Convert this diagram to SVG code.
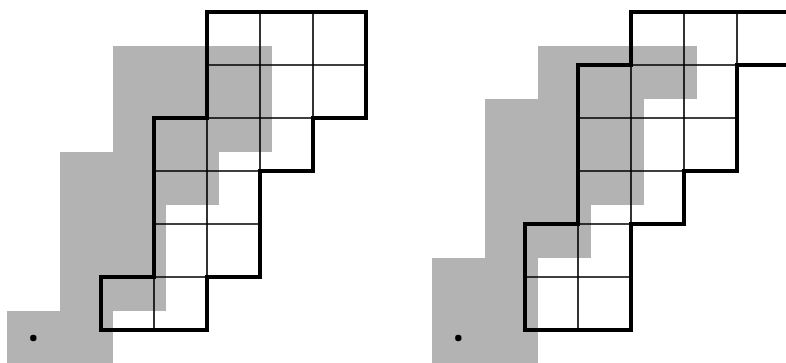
<svg xmlns="http://www.w3.org/2000/svg" width="786" height="363" viewBox="0 0 786 363">
<style>
.shade{fill:#b3b3b3;stroke:none}
.thin{stroke:#000;stroke-width:1.6;fill:none}
.thick{stroke:#000;stroke-width:4;fill:none;stroke-linejoin:miter;stroke-linecap:square}
.dot{fill:#000}
</style>
<rect width="786" height="363" fill="#fff"/>
<g id="left-figure">
  <polygon class="shade" points="113,46 272,46 272,152 219,152 219,205 166,205 166,311 113,311 113,363 7,363 7,311 60,311 60,152 113,152"/>
  <circle class="dot" cx="33.3" cy="338" r="3.2"/>
  <path class="thin" d="M260,12V171 M313,12V118 M207,118V277 M154,277V330 M207,65H366 M207,118H313 M154,171H260 M154,224H260 M154,277H207"/>
  <polygon class="thick" points="207,12 366,12 366,118 313,118 313,171 260,171 260,277 207,277 207,330 101,330 101,277 154,277 154,118 207,118"/>
</g>
<g id="right-figure">
  <polygon class="shade" points="538,46 697,46 697,99 644,99 644,205 591,205 591,258 538,258 538,363 432,363 432,258 485,258 485,99 538,99"/>
  <circle class="dot" cx="458.3" cy="338" r="3.2"/>
  <path class="thin" d="M684,12V171 M737,12V65 M631,65V224 M578,224V330 M631,65H737 M578,118H737 M578,171H684 M578,224H631 M525,277H631"/>
  <polyline class="thick" points="790,12 631,12 631,65 578,65 578,224 525,224 525,330 631,330 631,224 684,224 684,171 737,171 737,65 790,65"/>
</g>
</svg>
